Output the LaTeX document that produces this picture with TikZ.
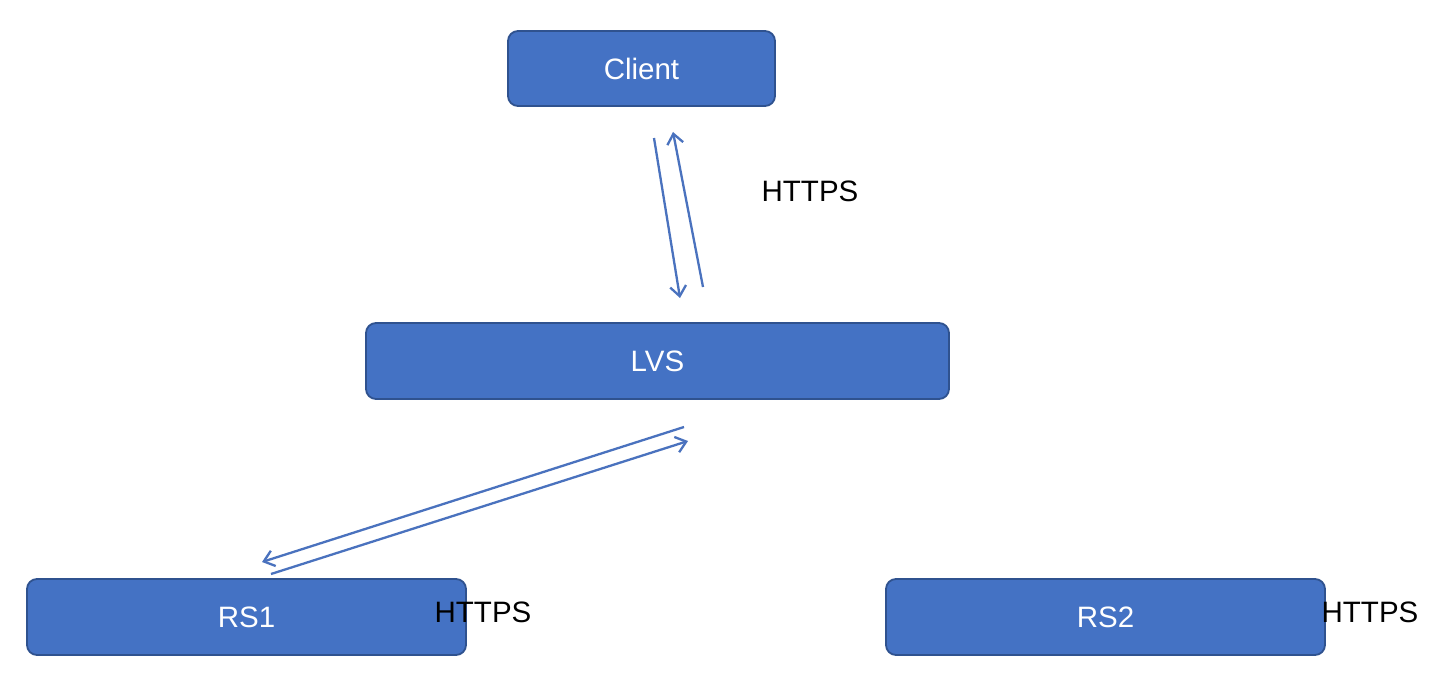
\documentclass[tikz,border=0pt]{standalone}
\usepackage{fontspec}
\setmainfont{Liberation Sans}
\usetikzlibrary{arrows.meta}
\definecolor{boxfill}{HTML}{4472C4}
\definecolor{boxline}{HTML}{2F528F}
\definecolor{arrowc}{HTML}{4A72BE}
\tikzset{
  box/.style={draw=boxline, line width=1.8pt, fill=boxfill, rounded corners=10pt, text=white, font=\fontsize{29.5}{34}\selectfont, inner sep=0pt},
  lbl/.style={font=\fontsize{29.5}{34}\selectfont, text=black, inner sep=0pt},
  conn/.style={draw=arrowc, line width=2.3pt, -{Straight Barb[length=10pt,width=16pt,line width=2.3pt]}},
}
\begin{document}
\begin{tikzpicture}[x=1pt,y=-1pt]
\useasboundingbox[fill=white] (0,0) rectangle (1440,674);
\node[box, minimum width=267pt, minimum height=75pt] (client) at (641.5,68.5) {Client};
\node[box, minimum width=583pt, minimum height=76pt] (lvs) at (657.5,361) {LVS};
\node[box, minimum width=439pt, minimum height=76pt] (rs1) at (246.5,617) {RS1};
\node[box, minimum width=439pt, minimum height=76pt] (rs2) at (1105.5,617) {RS2};
\node[lbl] (h1) at (810,191) {HTTPS};
\node[lbl] (h2) at (483,612) {HTTPS};
\node[lbl] (h3) at (1370,612) {HTTPS};
\coordinate (c1s) at (654,138);
\coordinate (c1e) at (680,298);
\coordinate (c2s) at (703,287);
\coordinate (c2e) at (673,132);
\coordinate (l1s) at (684,427);
\coordinate (l1e) at (262,562);
\coordinate (l2s) at (271,574);
\coordinate (l2e) at (688,441);
\draw[conn] (c1s) -- (c1e);
\draw[conn] (c2s) -- (c2e);
\draw[conn] (l1s) -- (l1e);
\draw[conn] (l2s) -- (l2e);
\end{tikzpicture}
\end{document}
